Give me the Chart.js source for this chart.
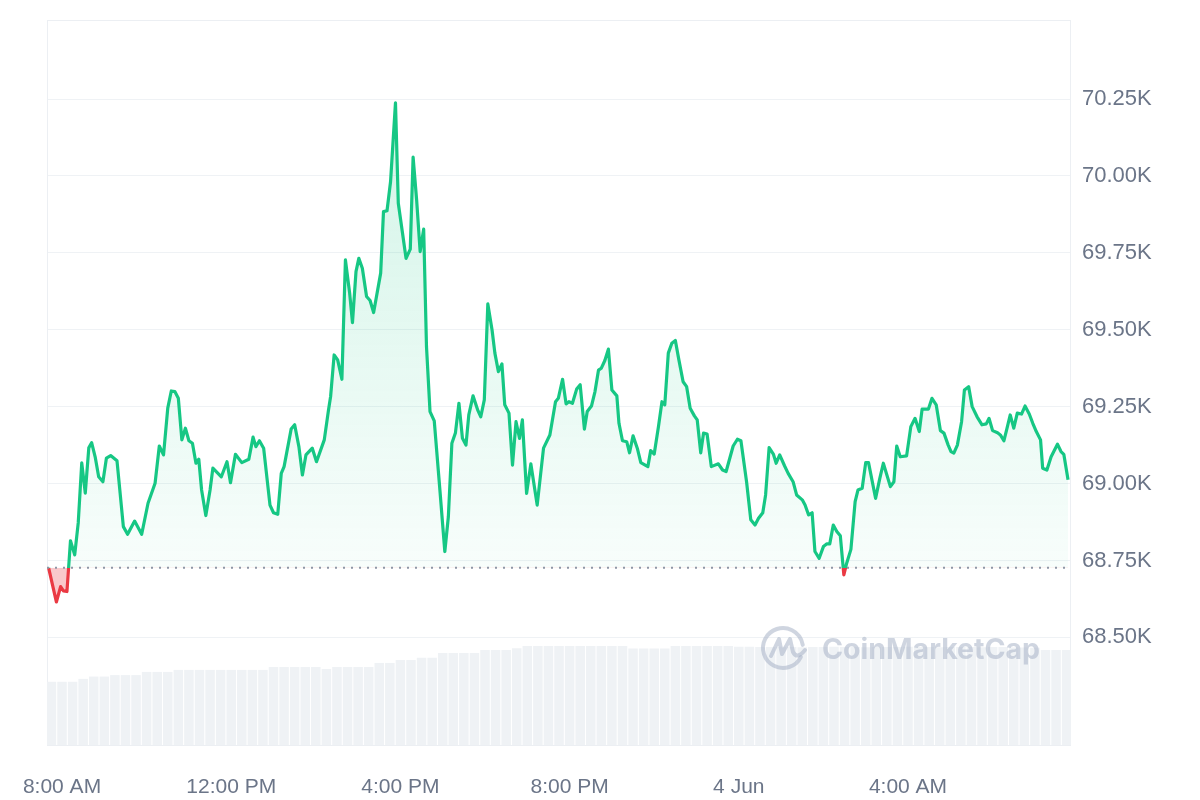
<!DOCTYPE html>
<html>
<head>
<meta charset="utf-8">
<script src="https://cdn.jsdelivr.net/npm/chart.js@4.4.1/dist/chart.umd.min.js"></script>
<style>
  html, body { margin: 0; padding: 0; background: #fff; }
  #wrap { width: 1200px; height: 800px; position: relative; }
</style>
</head>
<body>
<div id="wrap"><canvas id="chart"></canvas></div>
<script>
// price points: minutes after 8:00 AM (3 Jun), price in USD
const priceTimes = [
  -19, -8, -2, 2, 7, 12, 18, 23, 28, 33, 38, 42, 47, 52, 58, 63, 69, 78, 87, 93,
  103, 113, 122, 132, 138, 144, 150, 155, 160, 165, 170, 175, 180, 185, 190, 194, 198, 204, 210, 214,
  226, 234, 239, 246, 255, 265, 271, 275, 280, 286, 295, 300, 306, 311, 315, 325, 330, 336, 341, 346,
  355, 361, 372, 378, 381, 386, 391, 397, 402, 408, 412, 417, 421, 426, 432, 437, 442, 452, 456, 461,
  466, 473, 477, 483, 488, 494, 498, 503, 508, 513, 517, 522, 528, 536, 543, 548, 553, 558, 563, 568,
  573, 577, 583, 590, 594, 599, 604, 610, 614, 619, 624, 628, 634, 639, 644, 649, 653, 659, 665, 674,
  683, 692, 700, 704, 710, 715, 719, 724, 730, 735, 741, 745, 751, 756, 761, 765, 770, 775, 780, 787,
  790, 795, 801, 805, 810, 816, 821, 831, 835, 840, 846, 851, 855, 860, 865, 870, 875, 881, 886, 891,
  897, 901, 906, 910, 915, 921, 931, 937, 942, 952, 958, 963, 971, 977, 983, 988, 994, 998, 1003, 1009,
  1013, 1018, 1025, 1030, 1037, 1042, 1050, 1054, 1059, 1064, 1068, 1074, 1080, 1085, 1089, 1094, 1099, 1104, 1109, 1113,
  1119, 1125, 1129, 1135, 1140, 1144, 1154, 1160, 1165, 1175, 1180, 1184, 1189, 1198, 1204, 1210, 1216, 1220, 1229, 1234,
  1240, 1246, 1251, 1257, 1261, 1265, 1270, 1276, 1280, 1286, 1291, 1298, 1305, 1311, 1315, 1320, 1327, 1331, 1336, 1341,
  1345, 1350, 1355, 1361, 1366, 1372, 1377, 1382, 1388, 1391, 1397, 1403, 1412, 1417, 1421, 1427
]
const prices = [
  68726, 68615, 68665, 68651, 68649, 68814, 68768, 68872, 69067, 68969, 69116, 69133, 69087, 69022, 69006, 69083, 69091, 69074, 68860, 68835,
  68878, 68835, 68936, 69001, 69122, 69093, 69245, 69301, 69299, 69277, 69142, 69180, 69139, 69131, 69066, 69079, 68979, 68896, 68979, 69050,
  69022, 69071, 69003, 69095, 69068, 69079, 69151, 69120, 69139, 69115, 68930, 68905, 68900, 69033, 69055, 69177, 69191, 69120, 69028, 69093,
  69115, 69071, 69142, 69239, 69283, 69418, 69402, 69339, 69727, 69619, 69523, 69689, 69732, 69700, 69608, 69595, 69556, 69684, 69884, 69887,
  69981, 70238, 69911, 69814, 69732, 69762, 70061, 69922, 69754, 69827, 69445, 69234, 69204, 68979, 68779, 68892, 69131, 69164, 69261, 69147,
  69125, 69223, 69285, 69237, 69217, 69272, 69584, 69499, 69424, 69364, 69389, 69256, 69229, 69060, 69201, 69147, 69207, 68968, 69064, 68930,
  69115, 69158, 69266, 69277, 69339, 69259, 69266, 69261, 69307, 69321, 69177, 69234, 69252, 69299, 69369, 69375, 69400, 69437, 69304, 69285,
  69196, 69139, 69136, 69100, 69155, 69115, 69068, 69055, 69107, 69096, 69185, 69266, 69256, 69424, 69456, 69465, 69402, 69331, 69315, 69245,
  69220, 69207, 69100, 69164, 69161, 69055, 69064, 69044, 69039, 69122, 69144, 69139, 69006, 68882, 68865, 68887, 68905, 68963, 69117, 69096,
  69066, 69093, 69057, 69033, 69006, 68963, 68947, 68930, 68898, 68905, 68779, 68757, 68795, 68804, 68804, 68865, 68844, 68830, 68703, 68741,
  68786, 68941, 68979, 68985, 69068, 69068, 68952, 69017, 69066, 68990, 69006, 69122, 69087, 69090, 69185, 69212, 69169, 69242, 69242, 69277,
  69256, 69172, 69164, 69125, 69104, 69099, 69125, 69201, 69304, 69315, 69250, 69217, 69191, 69194, 69212, 69172, 69165, 69158, 69139, 69185,
  69223, 69180, 69229, 69226, 69252, 69226, 69196, 69169, 69142, 69050, 69044, 69087, 69128, 69104, 69095, 69012
]

// volume bars, one every 15 minutes starting at 7:45 AM (billions USD)
const volStart = -15
const volStep = 15
const volumes = [
  21.8, 21.8, 21.8, 22.8, 23.6, 23.6, 24.1, 24.1, 24.1, 25.2, 25.2, 25.2,
  25.9, 25.9, 25.9, 25.9, 25.9, 25.9, 25.9, 25.9, 25.9,
  26.9, 26.9, 26.9, 26.9, 26.9, 26.2, 26.9, 26.9, 26.9, 26.9,
  28.3, 28.3, 29.3, 29.3, 30.1, 30.1, 31.7, 31.7, 31.7, 31.7, 32.8, 32.8, 32.8, 33.4,
  34.1, 34.1, 34.1, 34.1, 34.1, 34.1, 34.1, 34.1, 34.1, 34.1,
  33.3, 33.3, 33.3, 33.3, 34.1, 34.1, 34.1, 34.1, 34.1, 34.1,
  33.9, 33.9, 33.8, 33.8, 33.9, 33.8, 33.7, 33.8, 33.8, 33.9, 33.8, 33.8, 33.7, 33.8, 33.8,
  33.8, 33.9, 33.8, 33.8, 33.7, 33.8, 33.8, 33.8, 33.7, 33.8, 33.8, 33.6, 33.6, 33.5,
  32.8, 32.8, 32.8
]

const xTickTimes = [0, 240, 480, 720, 960, 1200]
const xTickLabels = ['8:00 AM', '12:00 PM', '4:00 PM', '8:00 PM', '4 Jun', '4:00 AM']
const yTicks = [68500, 68750, 69000, 69250, 69500, 69750, 70000, 70250]

const baseline = prices[0]
const green = '#16c784'
const red = '#ea3943'
const tickColor = '#6b7588'

function splitColor(context) {
  const chart = context.chart
  const area = chart.chartArea
  if (!area || !chart.scales.y) return green
  const yb = chart.scales.y.getPixelForValue(baseline)
  const f = Math.min(Math.max((yb - area.top) / (area.bottom - area.top), 0), 1)
  const g = chart.ctx.createLinearGradient(0, area.top, 0, area.bottom)
  g.addColorStop(0, green)
  g.addColorStop(f, green)
  g.addColorStop(f, red)
  g.addColorStop(1, red)
  return g
}

function aboveFill(context) {
  const chart = context.chart
  const area = chart.chartArea
  if (!area || !chart.scales.y) return 'rgba(22,199,132,0.1)'
  const yb = chart.scales.y.getPixelForValue(baseline)
  const g = chart.ctx.createLinearGradient(0, area.top, 0, yb)
  g.addColorStop(0, 'rgba(22,199,132,0.22)')
  g.addColorStop(1, 'rgba(22,199,132,0.03)')
  return g
}

const frame = {
  id: 'frame',
  beforeDatasetsDraw(chart) {
    const { ctx, chartArea: a } = chart
    ctx.save()
    ctx.strokeStyle = '#eceff3'
    ctx.lineWidth = 1
    ctx.strokeRect(a.left + 0.5, a.top + 0.5, a.right - a.left - 1, a.bottom - a.top)
    ctx.restore()
  }
}

const watermark = {
  id: 'watermark',
  afterDatasetsDraw(chart) {
    const { ctx, chartArea: a } = chart
    const cx = a.right - 288, cy = a.bottom - 97
    ctx.save()
    ctx.strokeStyle = 'rgba(168,178,198,0.55)'
    ctx.fillStyle = 'rgba(168,178,198,0.55)'
    ctx.lineWidth = 4
    ctx.lineCap = 'round'
    ctx.lineJoin = 'round'
    ctx.beginPath()
    ctx.arc(cx, cy, 20, Math.PI * 0.15, Math.PI * 1.95)
    ctx.stroke()
    ctx.beginPath()
    ctx.moveTo(cx - 12, cy + 8)
    ctx.lineTo(cx - 4, cy - 9)
    ctx.lineTo(cx - 1, cy + 6)
    ctx.lineTo(cx + 7, cy - 9)
    ctx.lineTo(cx + 10, cy + 4)
    ctx.quadraticCurveTo(cx + 14, cy + 12, cx + 22, cy + 2)
    ctx.stroke()
    const txt = 'CoinMarketCap'
    ctx.font = 'bold 30px Inter, "Liberation Sans", sans-serif'
    const w = ctx.measureText(txt).width
    const size = 30 * 218 / w
    ctx.font = 'bold ' + size.toFixed(1) + 'px Inter, "Liberation Sans", sans-serif'
    ctx.textBaseline = 'middle'
    ctx.fillText(txt, cx + 39, cy + 2)
    ctx.restore()
  }
}

const priceData = priceTimes.map((t, i) => ({ x: t, y: prices[i] }))
const volData = volumes.map((v, i) => ({ x: volStart + i * volStep, y: v }))

new Chart(document.getElementById('chart'), {
  type: 'line',
  data: {
    datasets: [
      {
        type: 'line',
        data: priceData,
        borderColor: splitColor,
        backgroundColor: aboveFill,
        borderWidth: 3.2,
        borderJoinStyle: 'round',
        pointRadius: 0,
        tension: 0,
        fill: { target: { value: baseline }, below: 'rgba(234,57,67,0.28)' },
        yAxisID: 'y',
        order: 1
      },
      {
        type: 'line',
        data: [{ x: -21.3, y: baseline }, { x: 1431.2, y: baseline }],
        borderColor: '#8f97a6',
        borderWidth: 2,
        borderDash: [2, 6],
        pointRadius: 0,
        fill: false,
        yAxisID: 'y',
        order: 0
      },
      {
        type: 'bar',
        data: volData,
        backgroundColor: '#eff2f5',
        barPercentage: 0.9,
        categoryPercentage: 1,
        yAxisID: 'yv',
        order: 2
      }
    ]
  },
  options: {
    responsive: true,
    maintainAspectRatio: false,
    animation: false,
    layout: { padding: { left: 47, top: 20, right: 0, bottom: 0 } },
    plugins: { legend: { display: false }, tooltip: { enabled: false } },
    scales: {
      x: {
        type: 'linear',
        min: -21.3,
        max: 1431.2,
        offset: false,
        grid: { display: false, drawTicks: false },
        border: { display: false },
        afterBuildTicks: (s) => { s.ticks = xTickTimes.map(v => ({ value: v })) },
        afterFit: (s) => { s.height = 55; s.paddingLeft = 0; s.paddingRight = 0 },
        ticks: {
          autoSkip: false,
          maxRotation: 0,
          minRotation: 0,
          padding: 30,
          color: tickColor,
          font: { family: '"Liberation Sans", Arial, sans-serif', size: 21 },
          callback: (v) => xTickLabels[xTickTimes.indexOf(v)]
        }
      },
      y: {
        position: 'right',
        min: 68150,
        max: 70507,
        grid: { color: '#eff2f5', drawTicks: false },
        border: { display: false },
        afterBuildTicks: (s) => { s.ticks = yTicks.map(v => ({ value: v })) },
        afterFit: (s) => { s.width = 129; s.paddingTop = 0; s.paddingBottom = 0 },
        ticks: {
          padding: 11,
          color: tickColor,
          font: { family: '"Liberation Sans", Arial, sans-serif', size: 22 },
          callback: (v) => (v / 1000).toFixed(2) + 'K'
        }
      },
      yv: {
        display: false,
        min: 0,
        max: 250
      }
    }
  },
  plugins: [frame, watermark]
})
</script>
</body>
</html>
